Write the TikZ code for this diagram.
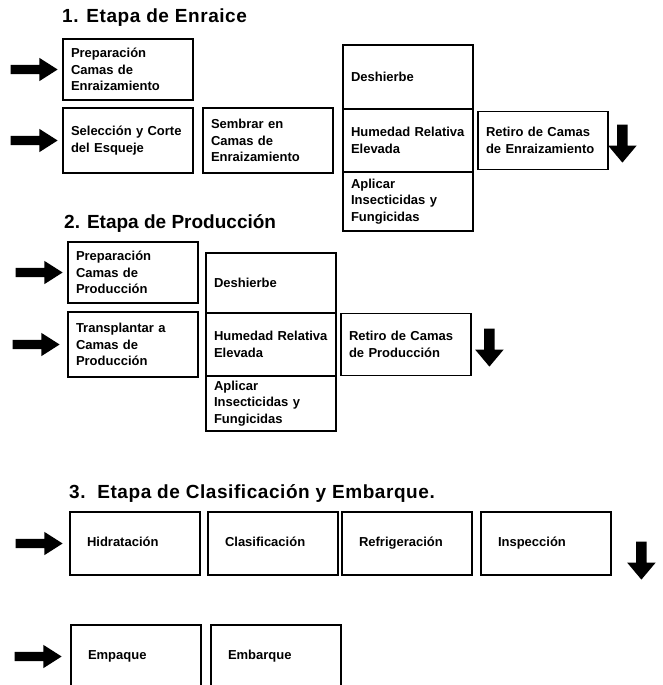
\documentclass[tikz,border=0pt]{standalone}
\usepackage{fontspec}
\setmainfont{Liberation Sans}
\usetikzlibrary{positioning,shapes.arrows}

\tikzset{
  paso/.style={draw, line width=1.7pt, outer sep=0pt, minimum width=130pt,
    text width=114pt, inner xsep=8pt, align=left,
    font=\fontsize{13}{16.5}\selectfont\bfseries},
  pasocorto/.style={paso, text width=96pt, inner xsep=17pt, text height=9.5pt, text depth=3pt},
  titulo/.style={anchor=west, inner sep=0pt, font=\fontsize{19}{22}\selectfont\bfseries},
  flecha/.style={single arrow, fill=black, inner sep=4.5pt, single arrow head extend=7pt,
    single arrow tip angle=65, minimum height=47pt},
  baja/.style={single arrow, fill=black, shape border rotate=270, inner sep=5pt,
    single arrow head extend=9pt, single arrow tip angle=80, minimum height=38pt},
}

\begin{document}
\begin{tikzpicture}[x=1pt, y=-1pt]
  \useasboundingbox (0,0) rectangle (662,685);
  % 1. Etapa de Enraice
  \node[titulo] (t1) at (62,18) {\addfontfeature{LetterSpace=3}1. Etapa de Enraice};
  \node[paso, minimum height=61pt] (prep1) at (128,69.5) {Preparación\\Camas de\\Enraizamiento};
  \node[paso, minimum height=65pt, below=8pt of prep1] (selec1) {Selección y Corte\\del Esqueje};
  \node[paso, minimum height=65pt, right=10pt of selec1] (siembra1) {Sembrar en\\Camas de\\Enraizamiento};
  \node[paso, minimum height=63pt, right=10pt of siembra1] (hum1) {Humedad Relativa\\Elevada};
  \node[paso, minimum height=64pt, above=0pt of hum1] (desh1) {Deshierbe};
  \node[paso, minimum height=59pt, below=0pt of hum1] (apl1) {Aplicar\\Insecticidas y\\Fungicidas};
  \node[paso, minimum height=58pt, right=5pt of hum1] (retiro1) {Retiro de Camas\\de Enraizamiento};
  \node[flecha, left=5pt of prep1] (ent1) {};
  \node[flecha, left=5pt of selec1] (ent2) {};
  \node[baja, right=9pt of retiro1] (sal1) {};

  % 2. Etapa de Produccion
  \node[titulo] (t2) at (64,224) {2. Etapa de Producción};
  \node[paso, minimum height=61pt] (prep2) at (133,272.5) {Preparación\\Camas de\\Producción};
  \node[paso, minimum height=65pt, below=9pt of prep2] (trans2) {Transplantar a\\Camas de\\Producción};
  \node[paso, minimum height=63pt, right=8pt of trans2] (hum2) {Humedad Relativa\\Elevada};
  \node[paso, minimum height=60pt, above=0pt of hum2] (desh2) {Deshierbe};
  \node[paso, minimum height=55pt, below=0pt of hum2] (apl2) {Aplicar\\Insecticidas y\\Fungicidas};
  \node[paso, minimum height=62pt, right=5pt of hum2] (retiro2) {Retiro de Camas\\de Producción};
  \node[flecha, left=5pt of prep2] (ent3) {};
  \node[flecha, left=8pt of trans2] (ent4) {};
  \node[baja, right=13pt of retiro2] (sal2) {};

  % 3. Etapa de Clasificacion y Embarque
  \node[titulo] (t3) at (69,493) {\addfontfeature{LetterSpace=3}3.\ \ Etapa de Clasificación y Embarque.};
  \node[pasocorto, minimum height=63pt] (hidra3) at (135,543.5) {Hidratación};
  \node[pasocorto, minimum height=63pt, right=8pt of hidra3] (clasif3) {Clasificación};
  \node[pasocorto, minimum height=63pt, right=4pt of clasif3] (refrig3) {Refrigeración};
  \node[pasocorto, minimum height=63pt, right=9pt of refrig3] (insp3) {Inspección};
  \node[baja, right=25pt of insp3, yshift=-14pt] (sal3) {};
  \node[pasocorto, minimum height=63pt] (empaq3) at (136,656.5) {Empaque};
  \node[pasocorto, minimum height=63pt, right=10pt of empaq3] (embarq3) {Embarque};
  \node[flecha, left=7pt of hidra3] (ent5) {};
  \node[flecha, left=9pt of empaq3] (ent6) {};
\end{tikzpicture}
\end{document}
